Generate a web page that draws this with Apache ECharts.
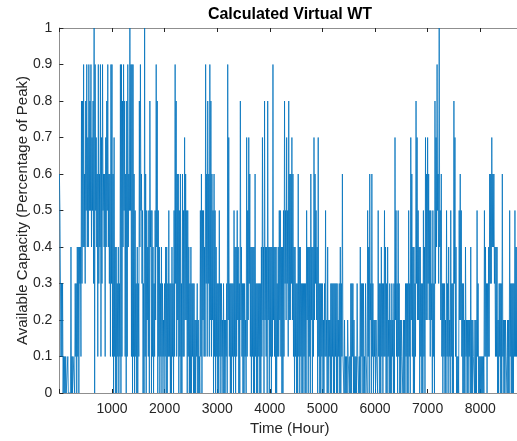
<!DOCTYPE html>
<html>
<head>
<meta charset="utf-8">
<script src="https://cdn.jsdelivr.net/npm/echarts@6/dist/echarts.min.js"></script>
<style>
  html, body { margin: 0; padding: 0; background: #fff; }
  #chart { width: 517px; height: 441px; }
</style>
</head>
<body>
<div id="chart"></div>
<script>
// Available capacity of the virtual wind turbine over one year.
// Each 20-hour window holds two readings, in tenths of peak (0..10):
// the window's peak (taken at its start) and its trough (10 hours later).
const WINDOW_HOURS = 20;

const peak0   = [6,5,3,3,1,1,1,0,1,0, 0,4,1,1,1,3,3,4,4,4, 4,8,8,9,6,8,9,7,9,8, 9,7,8,10,9,7,6,9,6,9, 7,9,6,6,7,8,9,6,6,9];
const trough0 = [5,1,1,0,0,0,0,0,0,0, 0,0,0,1,0,1,0,1,0,3, 1,3,4,4,3,5,4,4,5,5, 4,5,3,0,5,4,1,3,4,1, 3,5,4,1,4,5,4,3,1,3];

const peak1   = [9,6,7,4,4,3,4,3,9,9, 8,9,8,6,8,9,6,10,9,9, 9,6,5,3,4,3,8,9,6,5, 3,10,6,5,4,5,8,5,5,4, 3,5,9,8,5,4,3,4,3,2];
const trough1 = [1,0,1,0,0,1,0,1,0,1, 4,5,1,0,1,4,5,5,1,0, 1,0,1,0,0,1,4,5,3,0, 0,1,0,2,1,0,4,0,1,0, 1,2,4,0,1,0,1,0,1,0];

const peak2   = [3,4,4,3,5,3,3,4,3,5, 9,8,6,6,5,6,3,6,5,7, 6,5,5,4,3,4,3,3,3,2, 2,3,2,1,5,6,5,5,4,9, 6,8,6,9,8,6,5,6,5,4];
const trough2 = [1,0,0,1,1,0,0,1,0,1, 3,1,2,0,1,0,0,1,1,2, 2,0,1,0,0,0,1,0,0,0, 1,0,0,0,1,0,2,1,1,3, 1,3,1,2,1,2,0,1,0,1];

const peak3   = [3,3,5,3,3,2,3,2,2,3, 9,7,3,3,3,3,5,4,4,5, 4,3,8,4,3,3,3,2,7,5, 7,6,4,4,4,4,6,3,3,3, 3,3,4,7,4,8,4,4,8,4];
const trough3 = [0,0,1,0,1,0,0,0,1,0, 2,1,0,0,1,0,1,0,1,2, 0,0,2,1,0,0,1,0,1,2, 3,1,0,1,0,0,1,0,0,1, 0,0,1,2,0,2,1,0,2,0];

const peak4   = [4,4,4,9,4,4,4,3,4,5, 5,4,4,5,8,5,7,5,8,6, 6,7,6,4,4,3,3,6,4,4, 3,3,3,3,3,5,4,4,4,6, 4,4,7,6,5,4,7,3,3,3];
const trough4 = [1,0,1,2,1,0,0,1,1,2, 1,0,0,1,3,2,3,1,2,2, 3,2,1,0,1,0,0,1,0,1, 0,0,1,0,0,2,0,1,0,2, 0,1,2,3,2,0,1,0,0,1];

const peak5   = [3,2,3,5,2,4,2,2,3,3, 3,3,3,3,3,2,3,4,3,6, 1,2,1,1,2,1,1,3,3,3, 2,1,1,3,1,1,4,3,3,3, 1,3,1,5,4,6,3,6,3,2];
const trough5 = [0,0,1,1,0,0,1,0,0,1, 0,0,1,0,0,1,0,0,1,1, 0,0,0,0,1,0,0,0,1,0, 0,0,0,1,0,0,0,1,0,0, 0,1,0,1,0,2,0,1,0,1];

const peak6   = [2,2,1,5,3,3,4,3,3,5, 4,3,4,2,3,2,3,2,3,7, 5,3,5,3,2,2,1,2,2,3, 3,3,5,3,7,6,4,4,3,8, 7,5,4,4,3,3,5,4,7,6];
const trough6 = [0,1,0,1,0,0,1,0,1,1, 0,0,1,0,0,0,1,0,0,2, 1,0,1,0,0,1,0,0,0,1, 0,0,1,0,2,1,0,0,1,3, 2,2,0,1,0,0,1,0,2,2];

const peak7   = [7,6,5,5,3,5,3,8,7,9, 6,10,5,6,3,3,3,2,5,3, 4,2,5,3,3,8,7,4,1,1, 5,6,5,3,3,2,4,2,2,2, 2,4,2,2,1,2,2,5,3,1];
const trough7 = [3,2,1,2,0,1,0,3,4,5, 3,4,2,1,0,1,0,0,1,0, 1,0,1,0,0,3,1,0,0,0, 2,2,1,0,0,0,1,0,0,1, 0,0,0,1,0,0,0,1,0,0];

const peak8   = [1,1,1,1,5,4,3,3,4,6, 6,7,6,6,4,4,4,2,3,3, 3,6,2,2,2,1,2,2,5,3, 3,3,3,5,4,4,4,3];
const trough8 = [0,0,0,0,1,1,0,1,1,3, 3,4,4,3,1,1,0,0,1,0, 0,1,0,0,1,0,0,0,1,0, 0,0,1,1,1,0,1,0];

const xTickStep = 1000;
const yTickStep = 0.1;

const peaks = [].concat(peak0, peak1, peak2, peak3, peak4, peak5, peak6, peak7, peak8);
const troughs = [].concat(trough0, trough1, trough2, trough3, trough4, trough5, trough6, trough7, trough8);

const seriesData = [];
peaks.forEach((p, i) => {
  const start = i * WINDOW_HOURS;
  seriesData.push([start, p / 10]);
  seriesData.push([start + WINDOW_HOURS / 2, troughs[i] / 10]);
});

const FONT = '"Liberation Sans", Arial, Helvetica, sans-serif';
const AXIS_GREY = '#8f8f8f';
const TEXT_DARK = '#262626';

const chart = echarts.init(document.getElementById('chart'), null, { renderer: 'canvas' });

const tickCommon = { inside: true, length: 4, lineStyle: { color: TEXT_DARK, width: 1 } };
const xLabelFormatter = v => (v > 0 && v % xTickStep === 0 ? String(v) : '');

chart.setOption({
  animation: false,
  backgroundColor: '#fff',
  grid: { left: 59.4, right: -3.2, top: 28, bottom: 48, containLabel: false, outerBoundsMode: 'none' },
  graphic: [{
    type: 'text', x: 290, y: 15,
    style: { text: 'Calculated Virtual WT', fill: '#000', align: 'center', verticalAlign: 'middle',
             font: 'bold 16px ' + FONT }
  }],
  xAxis: [{
    type: 'value', position: 'bottom',
    min: 0, max: 8760, interval: xTickStep,
    axisLine: { show: true, onZero: false, lineStyle: { color: AXIS_GREY, width: 1 } },
    axisTick: tickCommon,
    axisLabel: { color: TEXT_DARK, fontSize: 14, fontFamily: FONT, margin: 9,
                 showMaxLabel: false, formatter: xLabelFormatter },
    splitLine: { show: false },
    name: 'Time (Hour)', nameLocation: 'middle', nameGap: 28,
    nameTextStyle: { color: TEXT_DARK, fontSize: 15, fontFamily: FONT }
  }, {
    type: 'value', position: 'top',
    min: 0, max: 8760, interval: xTickStep,
    axisLine: { show: true, onZero: false, lineStyle: { color: AXIS_GREY, width: 1 } },
    axisTick: tickCommon,
    axisLabel: { show: false },
    splitLine: { show: false }
  }],
  yAxis: [{
    type: 'value', position: 'left',
    min: 0, max: 1, interval: yTickStep,
    axisLine: { show: true, onZero: false, lineStyle: { color: AXIS_GREY, width: 1 } },
    axisTick: tickCommon,
    axisLabel: { color: TEXT_DARK, fontSize: 14, fontFamily: FONT, margin: 7,
                 formatter: v => String(Math.round(v * 10) / 10) },
    splitLine: { show: false },
    name: 'Available Capacity (Percentage of Peak)', nameLocation: 'middle', nameGap: 29,
    nameMoveOverlap: false,
    nameTextStyle: { color: TEXT_DARK, fontSize: 15, fontFamily: FONT }
  }],
  series: [{
    type: 'line',
    data: seriesData,
    showSymbol: false,
    symbol: 'none',
    sampling: null,
    clip: true,
    lineStyle: { color: '#0072BD', width: 0.8 },
    emphasis: { disabled: true }
  }]
});
</script>
</body>
</html>
